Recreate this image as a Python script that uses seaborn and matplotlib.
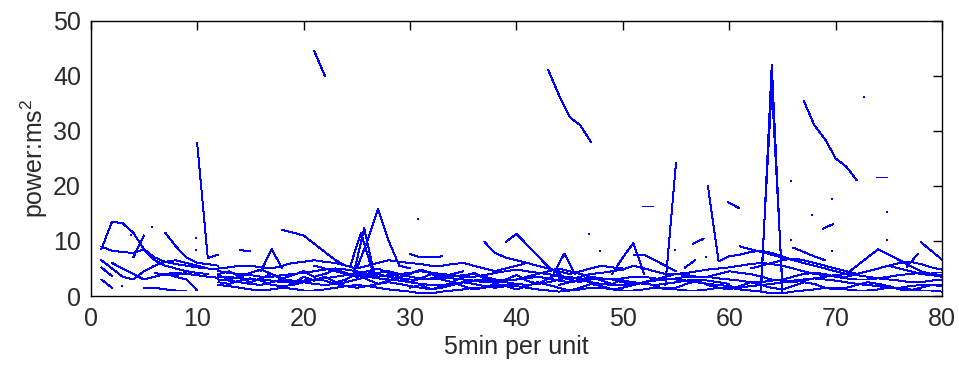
import numpy as np
import pandas as pd
import matplotlib
matplotlib.use("Agg")
import matplotlib.pyplot as plt
import seaborn as sns

# ---------------- data (start x, values at x, x+1, ...) ----------------
# early traces (x = 1 .. 12)
a1 = (1, [8.5, 13.5, 13.2, 11.5, 8.5, 6.5, 5.5, 5, 4.5, 4.2, 4])
a2 = (1, [9, 8.2, 8, 7.8, 8.5, 7, 6.2, 5.8, 5.5, 5.2, 5, 4.8])
a3 = (1, [6.5, 5, 3.5, 3, 4.5, 5.5, 6.2, 6.5, 6, 5.5, 5])
a4 = (1, [5.2, 3.6])
a5 = (1, [3, 1.5])
a6 = (4, [7, 11])
a7 = (7, [11.5, 9, 7, 6, 5.8, 5.5])
a8 = (2, [6, 5, 4, 3, 3.5, 4, 4.2, 4, 3.8, 3.5, 3.3])
a9 = (5, [1.5, 1.5, 1.2, 1, 1])
a10 = (6, [3.5, 4, 3.5, 3])
a11 = (6, [4.2, 3.8, 3.8, 4.2])
a12 = (9, [3, 1])
spike10 = (10, [27.8, 6.9, 7.5])

# dense low band (x = 12 .. 80)
b1 = (12, [2, 1.8, 1.5, 1.2, 1, 1.2, 1.5, 1.3, 1,
           1, 1.2, 1.5, 1.8, 2, 1.8, 1.5, 1.2, 1, 0.8,
           0.5, 0.5, 0.8, 1, 1.2, 1.5, 1.5, 1.8, 2, 1.8,
           1.5, 1.2, 1, 0.8, 1, 1.2, 1.5, 1.5, 1.2, 1,
           1, 1.2, 1.5, 1.5, 1.2, 1, 1, 1.2, 1.5, 1.5,
           1.2, 1, 0.8, 0.5, 0.5, 0.8, 1, 1.2, 1.5, 1.5,
           1.2, 1, 1, 1.2, 1.5, 1.5, 1.2, 1, 1, 0.8])
b2 = (12, [3, 2.8, 2.5, 2.2, 2, 2.5, 3, 2.8, 2.5,
           2.2, 2, 2.2, 2.5, 3, 3.5, 3.2, 3, 2.8, 2.5,
           2.2, 2, 2, 2.2, 2.5, 2.8, 3, 2.8, 2.5, 2.2,
           2, 2.2, 2.5, 3, 3.5, 3, 2.5, 2.2, 2, 2,
           2.2, 2.5, 2.8, 3, 3, 2.8, 2.5, 2.2, 2, 1.8,
           1.5, 1.8, 2, 2.2, 2.5, 2.8, 3, 3.2, 3, 2.8,
           2.5, 2.2, 2, 1.8, 1.5, 1.5, 1.8, 2, 2, 2])
b3 = (12, [4.5, 4.2, 4, 3.8, 3.5, 3.5, 3.8, 4, 4.2,
           4.5, 4.8, 5, 4.8, 4.5, 4, 3.5, 3.8, 4, 4.2,
           4.5, 4.2, 4, 3.8, 3.5, 3.5, 3.8, 4.2, 4.5, 4.8,
           4.5, 4.2, 4, 3.5, 3, 3.5, 4, 4.2, 4.5, 4.8,
           5.5, 5, 4.5, 4, 4, 4.2, 4.5, 4.8, 5, 5.2,
           5.5, 5.8, 6, 5.8, 5.5, 5, 4.5, 4, 3.8, 3.5,
           3.5, 4, 4.5, 5, 5.5, 5, 4.5, 4, 3.8, 3.5])
b4 = (12, [3.5, 3.5, 3.2, 3, 3, 2.8, 2.5, 2.5, 2.8,
           3, 3.2, 3.5, 3.8, 4, 4.5, 4, 3.5, 3.2, 3,
           3, 3.2, 3.5, 3.2, 3, 2.8, 2.5, 2.5, 2.8, 3,
           3.5, 4, 4.5, 5, 4.5, 4, 3.5, 3, 3, 3.2,
           3.5, 3.5, 3.2, 3, 3.2, 3.5, 3.5, 3.5, 3.2, 3,
           2.8, 2.5, 2.5, 2.8, 3, 3.5, 4, 4.2, 4, 3.5,
           3.2, 3, 3, 3.2, 3.5, 3.8, 4, 4.2, 4, 3.8])
b5 = (12, [5, 5.2, 5.5, 5.5, 5.2, 5, 5.5, 6, 6.2,
           6.5, 6.2, 6, 5.5, 5, 5.5, 6, 6.5, 6.2, 6,
           5.8, 5.5, 5.5, 5.8, 6, 5.5, 5, 4.5, 5, 5.5,
           6, 5.5, 5, 4.5, 4, 4.5, 5, 5.5, 5.2, 5])
b6 = (12, [2.5, 2.2, 2.8, 3.2, 2.8, 2, 1.8, 2, 2.5,
           3, 2.8, 2.2, 1.8, 1.5, 1.8, 2.2, 2.5, 2.2, 1.8,
           1.5, 1.2, 1.5, 2, 2.5, 2.2, 1.8, 1.5, 1.8, 2.2])
b7 = (21, [5.5, 5, 4.5, 4, 3.5, 3.8, 4.2, 4.5, 4, 3.5,
           3.2, 3, 3.2, 3.5, 3.8, 4, 3.5, 3, 2.8, 3,
           3.2, 3.5, 3.2, 2.8, 2.5, 2.8, 3, 3.2, 3, 2.8,
           2.5, 2.2, 2, 2.2, 2.5, 2.8, 3, 2.8, 2.5, 2.2])
b8 = (44, [2, 2.5, 3, 3.5, 3.2, 3, 2.5,
           2.2, 2.5, 3, 3.5, 4, 3.8, 3.5, 3.5, 4, 4.5,
           4.2, 4, 3.5, 3, 2.8, 2.5, 2.8, 3.2, 3.5, 3.8,
           4, 3.8, 3.5, 3.2, 3, 2.8, 2.5, 2.5, 2.8, 3])
b10 = (62, [5, 5.5, 6, 6.5, 6.8, 6.5, 6, 5.5, 5, 4.5,
            4, 4.5, 5, 5.5, 6, 6.2, 5.8, 5.2, 4.8])
b11 = (12, [3.8, 3, 3.5, 2.5, 3.2, 4, 3, 2.2, 3.5,
            2.8, 3.5, 2.5, 3, 4.2, 3, 2.2, 2.8, 3.5, 2.5,
            3.2, 4, 3, 2.5, 3.5, 4.2, 3.2, 2.2, 3, 3.8,
            2.8, 2.2, 3.2, 4, 3, 2.5, 3.5, 2.8, 2.2, 3])
b12 = (12, [4, 4.5, 3.5, 4.2, 4.8, 4, 3.2, 3.8, 4.5,
            3.5, 4, 4.8, 4.2, 3.5, 4.5, 5, 4.2, 3.5, 4,
            4.8, 4.2, 3.5, 4, 4.5])
b13 = (30, [1.5, 2, 1.2, 1.8, 2.5, 1.8, 1.2, 1.5, 2.2, 1.8,
            1.2, 1.8, 2.5, 2, 1.5, 1, 1.5, 2.2, 1.8, 1.2,
            1.5, 2, 2.5, 1.8, 1.2, 1.5, 2.2, 2.8, 2, 1.5,
            1.2, 1.8, 2.5, 2, 1.5, 1.2, 1.8, 2.5, 2.2, 1.5,
            1.2, 1.5, 2, 2.5, 2.2, 1.8, 1.2, 1, 1.5, 2, 1.8])

# prominent excursions
seg21 = (21, [44.5, 40])
seg43 = (43, [41, 36.5, 32.5, 31, 28])
seg67 = (67, [35.5, 31, 28.5, 25, 23.5, 21])
spike55 = (54, [2, 24.2])
spike58 = (58, [20, 6.3, 7.2, 7.5, 8, 8.2, 7.8, 7.2, 6.5, 6, 5.5, 5, 4.5, 4,
                5.5, 7, 8.5, 7.5, 6.5, 5.5, 4.5, 4, 3.5])
spike64a = (63, [1, 42, 0.8])
spike64b = (63, [2.5, 38, 2])
hump27 = (25, [5, 10, 15.8, 10, 5.5, 5])
spike26a = (24.7, [4, 12.3, 3.5])
spike26b = (24.4, [5.5, 11.5, 5])
line19 = (18, [12, 11.5, 11, 9.5, 8, 6.5, 5.5, 5])
tent17 = (16, [4.5, 8.5, 5])
dash14 = (14, [8.3, 8.2])
line30 = (30, [7.6, 7, 7, 7.2])
line37 = (37, [9.8, 7.8, 7, 6.5, 6])
line39 = (39, [9.8, 11.3, 9.3, 7.3, 5.3, 4])
tent44 = (43.5, [4, 7.7, 4])
tent51 = (49, [4, 7, 9.6, 4])
curve51 = (51, [7.5, 7.5, 6.5, 5.5, 4.5])
dash52 = (51.8, [16.3, 16.3])
dash74 = (73.8, [21.7, 21.7])
dash60 = (59.9, [17, 16])
seg69 = (68.8, [12.2, 13.1])
seg57 = (56.6, [9.5, 10.4])
seg56 = (55.8, [5.1, 6.5])
seg61 = (61, [9, 8.5, 8, 7.5, 7, 6.5])
seg66 = (66, [8.8, 8, 7.2, 6.5])
seg78 = (78, [9.8, 8.2, 6.6])
seg77 = (76.7, [5.3, 7.6])
flat79 = (79, [4.4, 4.4])

# isolated samples
dots_x = [5.8, 9.9, 9.9, 2.9, 3.8, 30.8, 46.8, 47.9, 54.9, 57.8, 65.8, 69.7,
          67.8, 74.8, 65.8, 74.8, 72.7, 69.7]
dots_y = [12.6, 10.6, 8.3, 1.8, 11.1, 13.9, 11.3, 8.1, 8.4, 7, 20.9, 17.7,
          14.8, 15.3, 10.2, 10.2, 36.2, 8.1]

x_ticks = [0, 10, 20, 30, 40, 50, 60, 70, 80]
y_ticks = [0, 10, 20, 30, 40, 50]

segments = [a1, a2, a3, a4, a5, a6, a7, a8, a9, a10, a11, a12, spike10,
            b1, b2, b3, b4, b5, b6, b7, b8, b10, b11, b12, b13,
            seg21, seg43, seg67, spike55, spike58, spike64a, spike64b, hump27,
            spike26a, spike26b, line19, tent17, dash14, line30, line37, line39,
            tent44, tent51, curve51, dash52, dash74, dash60, seg69, seg57, seg56,
            seg61, seg66, seg78, seg77, flat79]

rows = []
for sid, (x0, vals) in enumerate(segments):
    for i, v in enumerate(vals):
        rows.append({"seg": sid, "x": x0 + i, "y": v})
df = pd.DataFrame(rows)

# ---------------- style ----------------
sns.set_theme(style="white")
plt.rcParams["font.family"] = ["Liberation Sans", "DejaVu Sans"]
plt.rcParams["mathtext.fontset"] = "custom"
plt.rcParams["mathtext.rm"] = "Liberation Sans"
plt.rcParams["mathtext.it"] = "Liberation Sans"

fig = plt.figure(figsize=(9.59, 3.69), dpi=100)
ax = fig.add_axes([0.0946, 0.1978, 0.8877, 0.7462])

sns.lineplot(data=df, x="x", y="y", units="seg", estimator=None, sort=False,
             color="#0000ff", linewidth=0.7, antialiased=False, legend=False,
             ax=ax)
sns.scatterplot(x=dots_x, y=dots_y, color="#0000ff", marker="s", s=3,
                linewidth=0, ax=ax)

ax.set_xlim(0, 80)
ax.set_ylim(0, 50)
ax.set_xticks(x_ticks)
ax.set_yticks(y_ticks)
ax.set_xticklabels([str(t) for t in x_ticks])
ax.set_yticklabels([str(t) for t in y_ticks])
ax.tick_params(axis="both", which="both", direction="in", length=6.5, width=1,
               top=True, right=True, labelsize=18, color="black",
               labelcolor="#2a2a2a")
ax.tick_params(axis="x", pad=8)
ax.tick_params(axis="y", pad=7)
for s in ax.spines.values():
    s.set_color("black")
    s.set_linewidth(1.0)
    s.set_visible(True)

ax.set_xlabel("5min per unit", fontsize=18, color="#2a2a2a", labelpad=3)
ax.set_ylabel("power:ms$^2$", fontsize=18, color="#2a2a2a", labelpad=2)

fig.savefig("out.png", dpi=100)
